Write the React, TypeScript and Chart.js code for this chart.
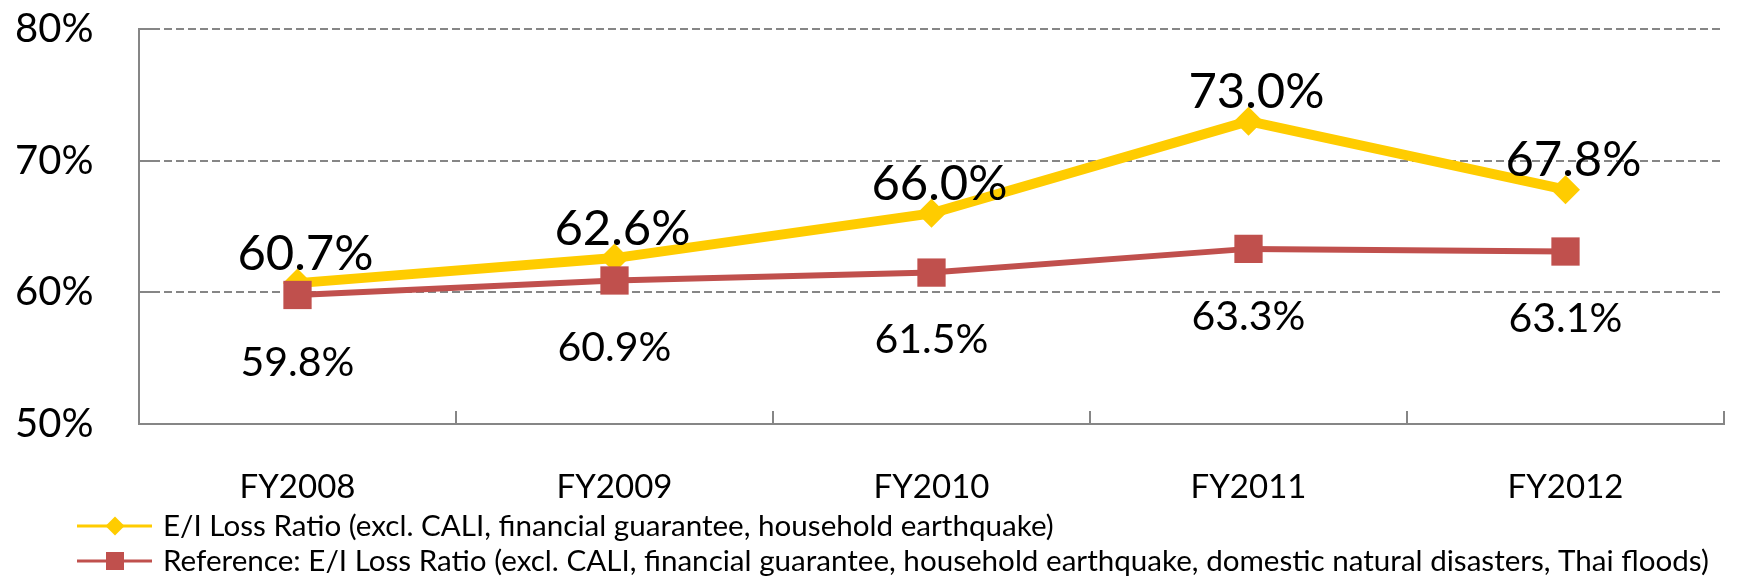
import React, { useEffect, useRef } from 'react';
import { Chart, registerables } from 'chart.js';

Chart.register(...registerables);

const categories = ['FY2008', 'FY2009', 'FY2010', 'FY2011', 'FY2012'];
const lossRatio = [60.7, 62.6, 66.0, 73.0, 67.8];
const referenceRatio = [59.8, 60.9, 61.5, 63.3, 63.1];
const yTicks = [50, 60, 70, 80];
const legendLabels = [
  'E/I Loss Ratio (excl. CALI, financial guarantee, household earthquake)',
  'Reference: E/I Loss Ratio (excl. CALI, financial guarantee, household earthquake, domestic natural disasters, Thai floods)',
];

const YELLOW = '#FFCC00';
const RED = '#C0504D';
const GRID = '#868686';
const FONT = 'Lato, "Noto Sans", sans-serif';

const overlay = {
  id: 'overlay',
  beforeDatasetsDraw(chart: any) {
    const ctx = chart.ctx;
    const xs = chart.scales.x;
    const ys = chart.scales.y;
    const area = chart.chartArea;
    ctx.save();
    ctx.strokeStyle = GRID;
    ctx.lineWidth = 2;
    ctx.setLineDash([]);
    for (let i = 1; i <= categories.length; i++) {
      const px = i < categories.length
        ? (xs.getPixelForValue(i - 1) + xs.getPixelForValue(i)) / 2
        : area.right;
      ctx.beginPath();
      ctx.moveTo(Math.round(px), area.bottom);
      ctx.lineTo(Math.round(px), area.bottom - 13);
      ctx.stroke();
    }
    yTicks.slice(1).forEach((v) => {
      const py = Math.round(ys.getPixelForValue(v));
      ctx.beginPath();
      ctx.moveTo(area.left, py);
      ctx.lineTo(area.left + 14, py);
      ctx.stroke();
    });
    ctx.restore();
  },
  afterDatasetsDraw(chart: any) {
    const ctx = chart.ctx;
    ctx.save();
    ctx.fillStyle = '#000';
    ctx.textAlign = 'center';
    ctx.textBaseline = 'alphabetic';
    const m0 = chart.getDatasetMeta(0);
    ctx.font = `49px ${FONT}`;
    m0.data.forEach((pt: any, i: number) => {
      const capCenter = pt.y - 31;
      ctx.fillText(lossRatio[i].toFixed(1) + '%', pt.x + 8, capCenter + 0.36 * 49);
    });
    const m1 = chart.getDatasetMeta(1);
    ctx.font = `41px ${FONT}`;
    m1.data.forEach((pt: any, i: number) => {
      const capCenter = pt.y + 66;
      ctx.fillText(referenceRatio[i].toFixed(1) + '%', pt.x, capCenter + 0.36 * 41);
    });
    ctx.restore();
  },
  afterDraw(chart: any) {
    const ctx = chart.ctx;
    ctx.save();
    const rows = [
      { y: 526, color: YELLOW, shape: 'diamond' },
      { y: 561, color: RED, shape: 'square' },
    ];
    rows.forEach((r, i) => {
      ctx.strokeStyle = r.color;
      ctx.fillStyle = r.color;
      ctx.lineWidth = 3;
      ctx.beginPath();
      ctx.moveTo(77, r.y);
      ctx.lineTo(152, r.y);
      ctx.stroke();
      const cx = 115;
      ctx.beginPath();
      if (r.shape === 'diamond') {
        ctx.moveTo(cx, r.y - 9.5);
        ctx.lineTo(cx + 9.5, r.y);
        ctx.lineTo(cx, r.y + 9.5);
        ctx.lineTo(cx - 9.5, r.y);
        ctx.closePath();
      } else {
        ctx.rect(cx - 9, r.y - 9, 18, 18);
      }
      ctx.fill();
      ctx.fillStyle = '#000';
      ctx.font = `29.6px ${FONT}`;
      ctx.textAlign = 'left';
      ctx.textBaseline = 'middle';
      ctx.fillText(legendLabels[i], 163, r.y);
    });
    ctx.restore();
  },
};

export default function App() {
  const ref = useRef<HTMLCanvasElement | null>(null);
  useEffect(() => {
    document.body.style.margin = '0';
    const canvas = ref.current;
    if (!canvas) return;
    const chart = new Chart(canvas, {
      type: 'line',
      data: {
        labels: categories,
        datasets: [
          {
            label: legendLabels[0],
            data: lossRatio,
            borderColor: YELLOW,
            backgroundColor: YELLOW,
            borderWidth: 10,
            pointStyle: 'rectRot',
            pointRadius: 14.5,
            pointHoverRadius: 14.5,
            pointBorderWidth: 0,
            pointBackgroundColor: YELLOW,
            tension: 0,
            order: 1,
          },
          {
            label: legendLabels[1],
            data: referenceRatio,
            borderColor: RED,
            backgroundColor: RED,
            borderWidth: 6,
            pointStyle: 'rect',
            pointRadius: 20,
            pointHoverRadius: 20,
            pointBorderWidth: 0,
            pointBackgroundColor: RED,
            tension: 0,
            order: 0,
          },
        ],
      },
      options: {
        responsive: false,
        animation: false,
        clip: false,
        layout: { padding: { top: 29, right: 5, left: 15, bottom: 0 } },
        plugins: {
          legend: { display: false },
          tooltip: { enabled: false },
        },
        scales: {
          x: {
            type: 'category',
            offset: true,
            grid: { display: false },
            border: { display: true, color: GRID, width: 2 },
            ticks: {
              color: '#000',
              font: { family: FONT, size: 33 },
              padding: 36,
              maxRotation: 0,
            },
            afterFit: (s: any) => { s.height = 158; },
          },
          y: {
            min: 50,
            max: 80,
            grid: {
              color: GRID,
              lineWidth: 2,
              drawTicks: false,
            },
            border: { display: true, color: GRID, width: 2, dash: [8, 4] },
            ticks: {
              stepSize: 10,
              color: '#000',
              font: { family: FONT, size: 40 },
              padding: 2,
              crossAlign: 'far',
              callback: (v: any) => v + '%',
            },
            afterBuildTicks: (s: any) => { s.ticks = yTicks.map((v) => ({ value: v })); },
            afterFit: (s: any) => { s.width = 124; },
          },
        },
      } as any,
      plugins: [overlay],
    });
    return () => chart.destroy();
  }, []);
  return <canvas ref={ref} width={1744} height={582} style={{ display: 'block' }} />;
}
